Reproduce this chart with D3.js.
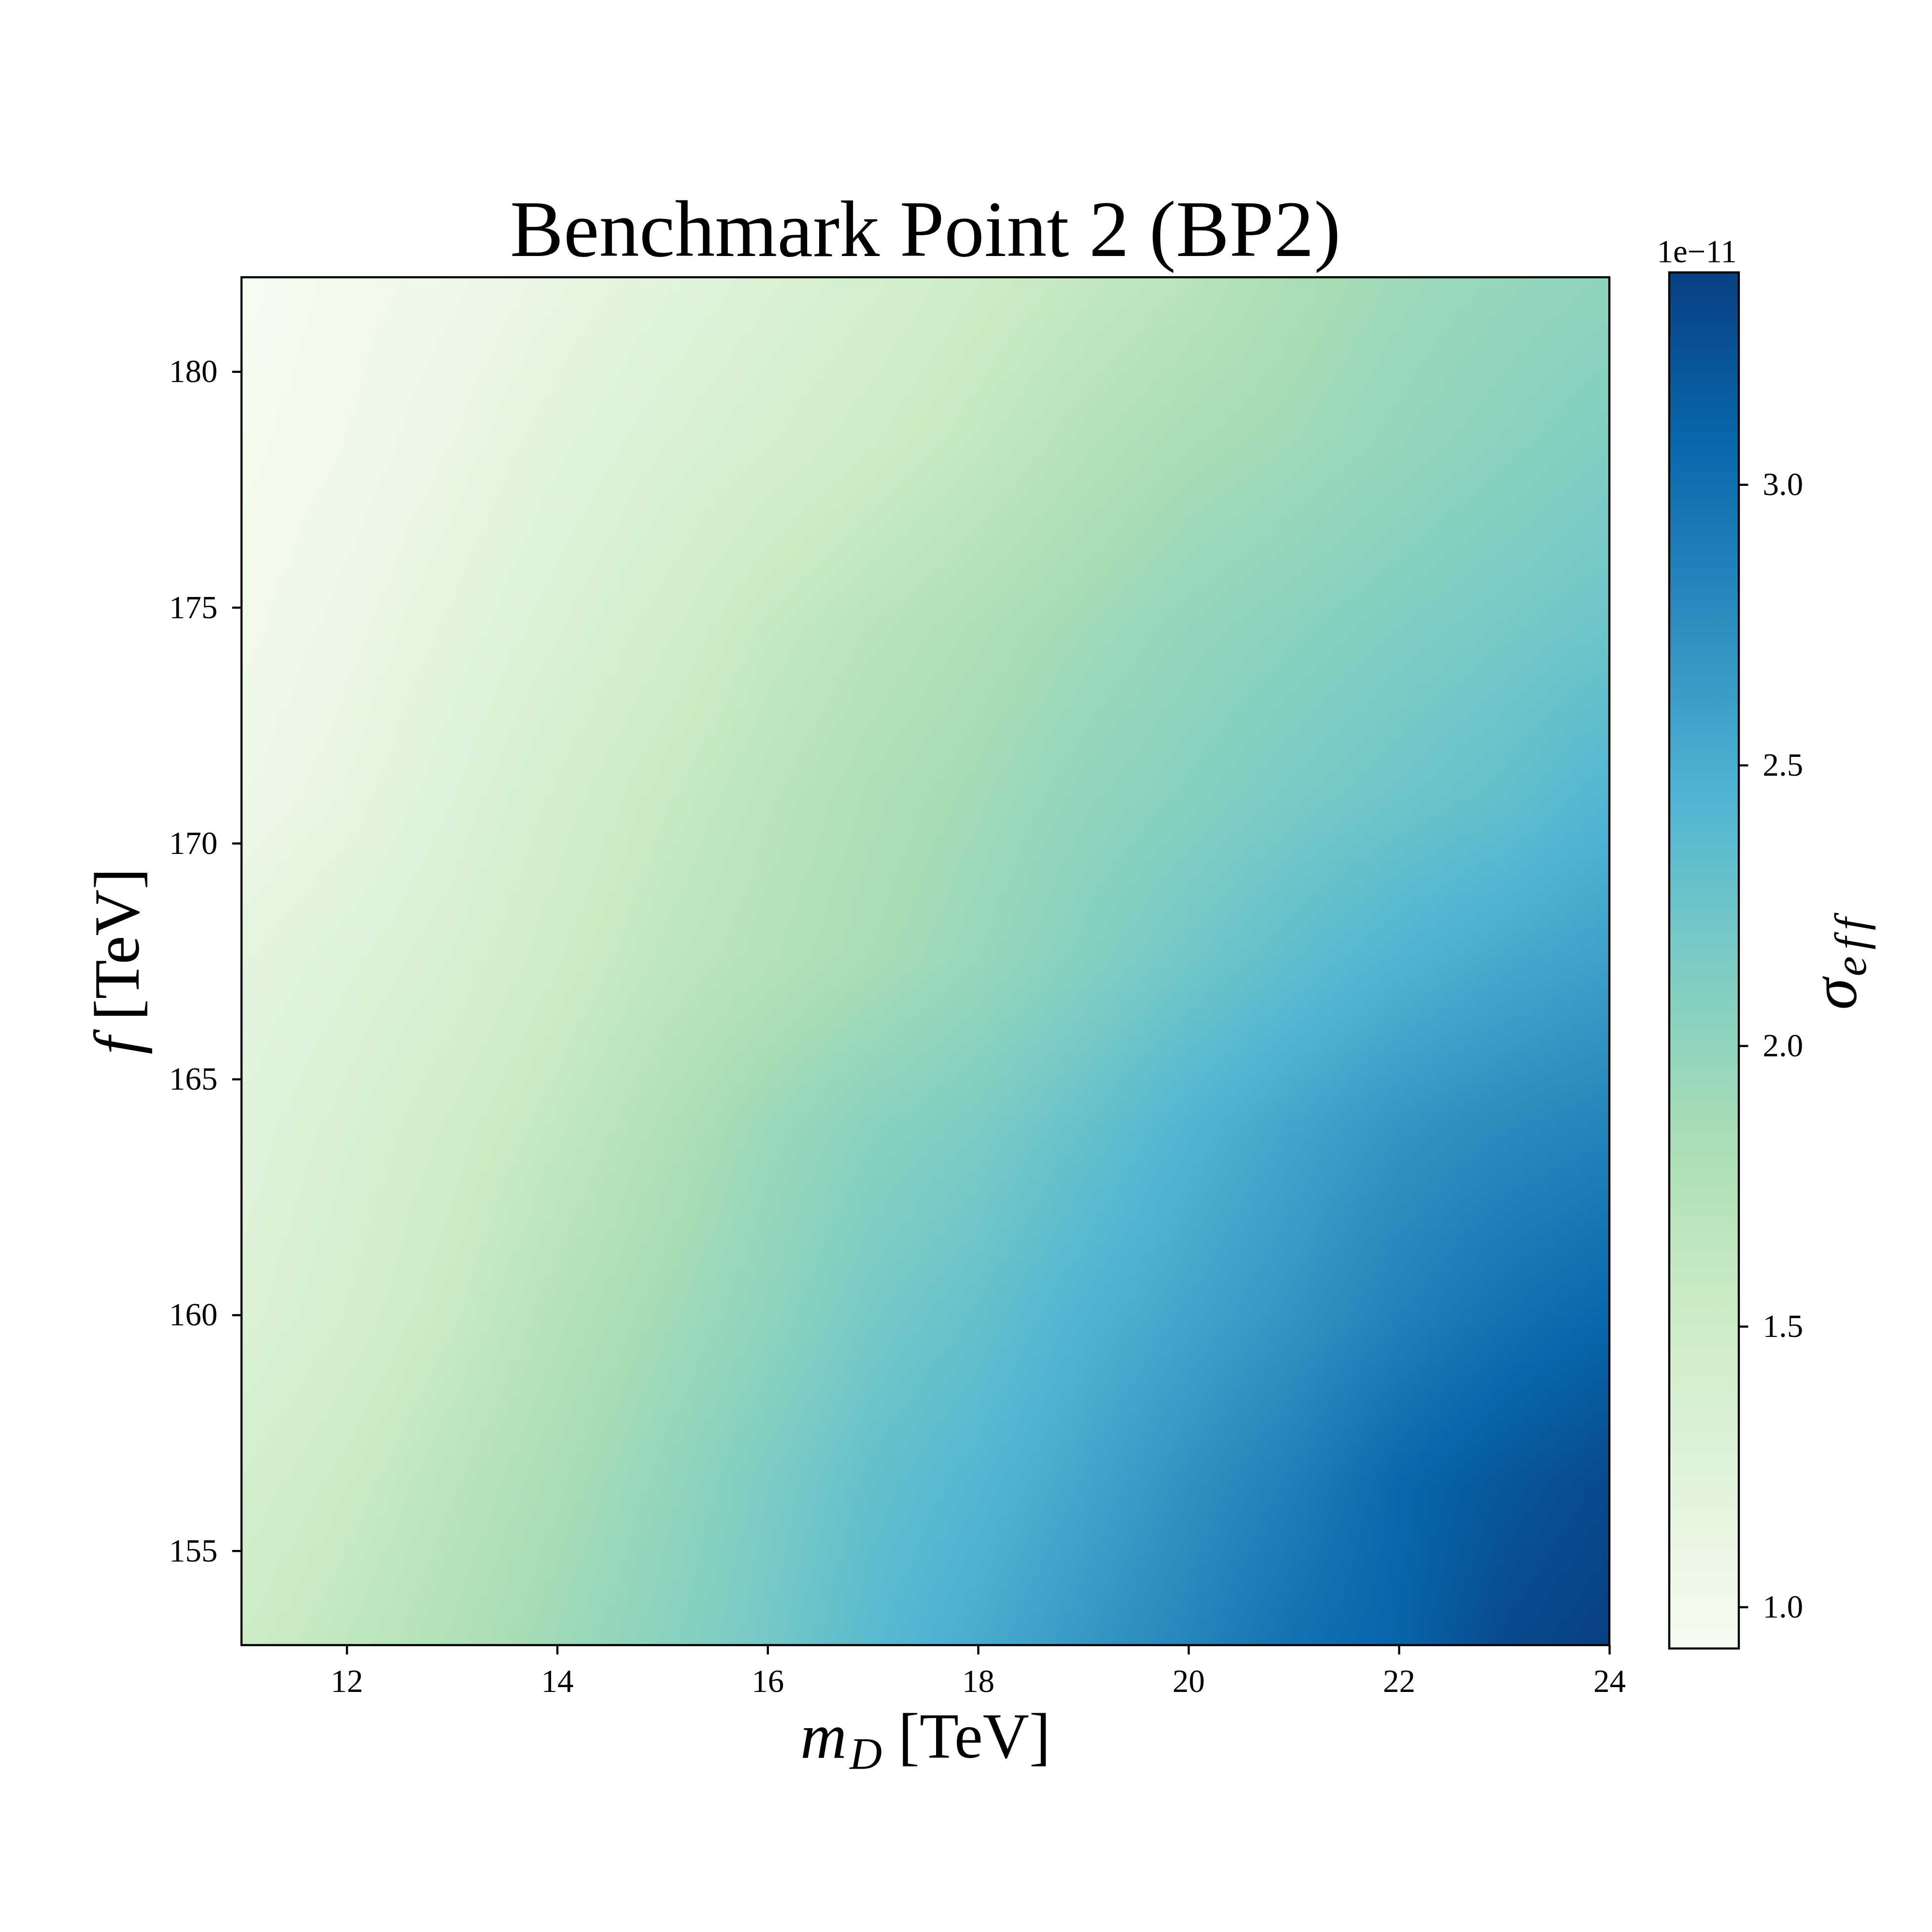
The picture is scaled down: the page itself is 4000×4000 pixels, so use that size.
<!DOCTYPE html>
<html lang="en">
<head>
<meta charset="UTF-8">
<title>Benchmark Point 2 (BP2)</title>
<script src="https://cdn.jsdelivr.net/npm/d3@7"></script>
<style>
  body { margin: 0; background: #fff; }
  svg text { font-family: "Liberation Serif", "Times New Roman", serif; fill: #000; font-variant-ligatures: none; }
</style>
</head>
<body>
<div id="main"></div>
<script>
// grid: m_D columns, f rows (bottom to top), sigma_eff in units of 1e-11
const mD = [11, 12, 13, 14, 15, 16, 17, 18, 19, 20, 21, 22, 23, 24];
const fTeV = [153, 156.5, 160, 164, 167.5, 171, 174.5, 178.5, 182];
const sigmaEff = [
  [1.52, 1.64, 1.77, 1.91, 2.05, 2.20, 2.38, 2.52, 2.67, 2.82, 2.99, 3.10, 3.30, 3.378],
  [1.42, 1.54, 1.69, 1.83, 1.98, 2.15, 2.31, 2.42, 2.56, 2.72, 2.87, 3.07, 3.20, 3.30],
  [1.30, 1.42, 1.57, 1.74, 1.88, 2.02, 2.19, 2.30, 2.45, 2.57, 2.70, 2.85, 2.98, 3.08],
  [1.25, 1.35, 1.48, 1.62, 1.77, 1.93, 2.06, 2.15, 2.29, 2.44, 2.57, 2.69, 2.77, 2.83],
  [1.18, 1.27, 1.37, 1.51, 1.65, 1.75, 1.85, 1.96, 2.09, 2.22, 2.34, 2.45, 2.54, 2.61],
  [1.06, 1.15, 1.28, 1.43, 1.57, 1.69, 1.80, 1.89, 2.00, 2.08, 2.17, 2.24, 2.31, 2.43],
  [1.00, 1.09, 1.20, 1.32, 1.45, 1.60, 1.71, 1.80, 1.90, 1.99, 2.06, 2.13, 2.19, 2.25],
  [0.96, 1.02, 1.11, 1.22, 1.32, 1.41, 1.51, 1.62, 1.74, 1.84, 1.90, 1.98, 2.05, 2.12],
  [0.926, 0.99, 1.05, 1.13, 1.22, 1.31, 1.40, 1.51, 1.61, 1.70, 1.82, 1.91, 1.97, 2.02]
];
const xTicks = [12, 14, 16, 18, 20, 22, 24];
const yTicks = [155, 160, 165, 170, 175, 180];
const cTicks = [1.0, 1.5, 2.0, 2.5, 3.0];
const gnbu = ["#f7fcf0", "#e0f3db", "#ccebc5", "#a8ddb5", "#7bccc4", "#4eb3d3", "#2b8cbe", "#0868ac", "#084081"];

const W = 4000, H = 4000;
const plot = {left: 500, right: 3332, top: 574, bottom: 3406};
const cbar = {left: 3456, right: 3600, top: 564, bottom: 3413};
const tickLen = 19.4, tickW = 4.4, pad = 30;

const svg = d3.select("#main").append("svg").attr("width", W).attr("height", H);

const x = d3.scaleLinear().domain([11, 24]).range([plot.left, plot.right]);
const y = d3.scaleLinear().domain([153, 182]).range([plot.bottom, plot.top]);

const [vmin, vmax] = d3.extent(sigmaEff.flat());
const color = d3.scaleLinear()
  .domain(gnbu.map((c, i) => vmin + (vmax - vmin) * i / (gnbu.length - 1)))
  .range(gnbu)
  .interpolate(d3.interpolateRgb);

// gouraud-like shading between grid nodes
const N = 24;
const cells = [];
for (let r = 0; r < fTeV.length - 1; r++) {
  for (let c = 0; c < mD.length - 1; c++) {
    const v00 = sigmaEff[r][c], v01 = sigmaEff[r][c + 1];
    const v10 = sigmaEff[r + 1][c], v11 = sigmaEff[r + 1][c + 1];
    const dx = mD[c + 1] - mD[c], dy = fTeV[r + 1] - fTeV[r];
    for (let a = 0; a < N; a++) {
      for (let b = 0; b < N; b++) {
        const u = (a + 0.5) / N, v = (b + 0.5) / N;
        cells.push({
          x0: mD[c] + dx * a / N, x1: mD[c] + dx * (a + 1) / N,
          y0: fTeV[r] + dy * b / N, y1: fTeV[r] + dy * (b + 1) / N,
          val: (1 - u) * (1 - v) * v00 + u * (1 - v) * v01 + (1 - u) * v * v10 + u * v * v11
        });
      }
    }
  }
}

svg.append("clipPath").attr("id", "clip")
  .append("rect")
  .attr("x", plot.left).attr("y", plot.top)
  .attr("width", plot.right - plot.left).attr("height", plot.bottom - plot.top);

svg.append("g").attr("clip-path", "url(#clip)")
  .selectAll("rect")
  .data(cells)
  .enter()
  .append("rect")
  .attr("x", d => x(d.x0))
  .attr("y", d => y(d.y1))
  .attr("width", d => x(d.x1) - x(d.x0) + 0.8)
  .attr("height", d => y(d.y0) - y(d.y1) + 0.8)
  .attr("fill", d => color(d.val))
  .attr("shape-rendering", "crispEdges");

function styleAxis(g) {
  g.select(".domain").remove();
  g.selectAll(".tick line").attr("stroke", "#000").attr("stroke-width", tickW);
  g.selectAll(".tick text").attr("font-size", 67).attr("fill", "#000")
    .style("font-family", "'Liberation Serif', 'Times New Roman', serif");
}

svg.append("g")
  .attr("transform", "translate(0," + plot.bottom + ")")
  .call(d3.axisBottom(x).tickValues(xTicks).tickSize(tickLen).tickPadding(pad).tickFormat(d3.format("d")))
  .call(styleAxis);

svg.append("g")
  .attr("transform", "translate(" + plot.left + ",0)")
  .call(d3.axisLeft(y).tickValues(yTicks).tickSize(tickLen).tickPadding(pad).tickFormat(d3.format("d")))
  .call(styleAxis);

svg.append("rect")
  .attr("x", plot.left).attr("y", plot.top)
  .attr("width", plot.right - plot.left).attr("height", plot.bottom - plot.top)
  .attr("fill", "none").attr("stroke", "#000").attr("stroke-width", tickW);

// title and axis labels
const cx = (plot.left + plot.right) / 2;
svg.append("text")
  .attr("x", cx).attr("y", 530)
  .attr("text-anchor", "middle").attr("font-size", 166)
  .text("Benchmark Point 2 (BP2)");

const xl = svg.append("text")
  .attr("x", cx).attr("y", 3639)
  .attr("text-anchor", "middle").attr("font-size", 133);
xl.append("tspan").attr("font-style", "italic").text("m");
xl.append("tspan").attr("font-style", "italic").attr("font-size", 93).attr("dy", 23).attr("dx", 6).text("D");
xl.append("tspan").attr("dy", -23).text(" [TeV]");

const yl = svg.append("text")
  .attr("transform", "translate(287," + (plot.top + plot.bottom) / 2 + ") rotate(-90)")
  .attr("text-anchor", "middle").attr("font-size", 133);
yl.append("tspan").attr("font-style", "italic").text("f");
yl.append("tspan").text(" [TeV]");

// colorbar
const cy = d3.scaleLinear().domain([vmin, vmax]).range([cbar.bottom, cbar.top]);
const grad = svg.append("defs").append("linearGradient")
  .attr("id", "cgrad").attr("x1", 0).attr("y1", 1).attr("x2", 0).attr("y2", 0);
grad.selectAll("stop")
  .data(d3.range(0, 1.0001, 1 / 32))
  .enter()
  .append("stop")
  .attr("offset", t => t)
  .attr("stop-color", t => color(vmin + t * (vmax - vmin)));

svg.append("rect")
  .attr("x", cbar.left).attr("y", cy(vmax))
  .attr("width", cbar.right - cbar.left).attr("height", cy(vmin) - cy(vmax))
  .attr("fill", "url(#cgrad)")
  .attr("stroke", "#000").attr("stroke-width", tickW);

svg.append("g")
  .attr("transform", "translate(" + cbar.right + ",0)")
  .call(d3.axisRight(cy).tickValues(cTicks).tickSize(tickLen).tickPadding(pad).tickFormat(d3.format(".1f")))
  .call(styleAxis);

svg.append("text")
  .attr("x", 3596).attr("y", 543)
  .attr("text-anchor", "end").attr("font-size", 67)
  .text("1e\u221211");

const cl = svg.append("text")
  .attr("transform", "translate(3843," + (cbar.top + cbar.bottom) / 2 + ") rotate(-90)")
  .attr("text-anchor", "middle").attr("font-size", 133);
cl.append("tspan").attr("font-style", "italic").text("\u03c3");
cl.append("tspan").attr("font-style", "italic").attr("font-size", 93).attr("dy", 20).attr("dx", 4)
  .attr("letter-spacing", 14).text("eff");
</script>
</body>
</html>
